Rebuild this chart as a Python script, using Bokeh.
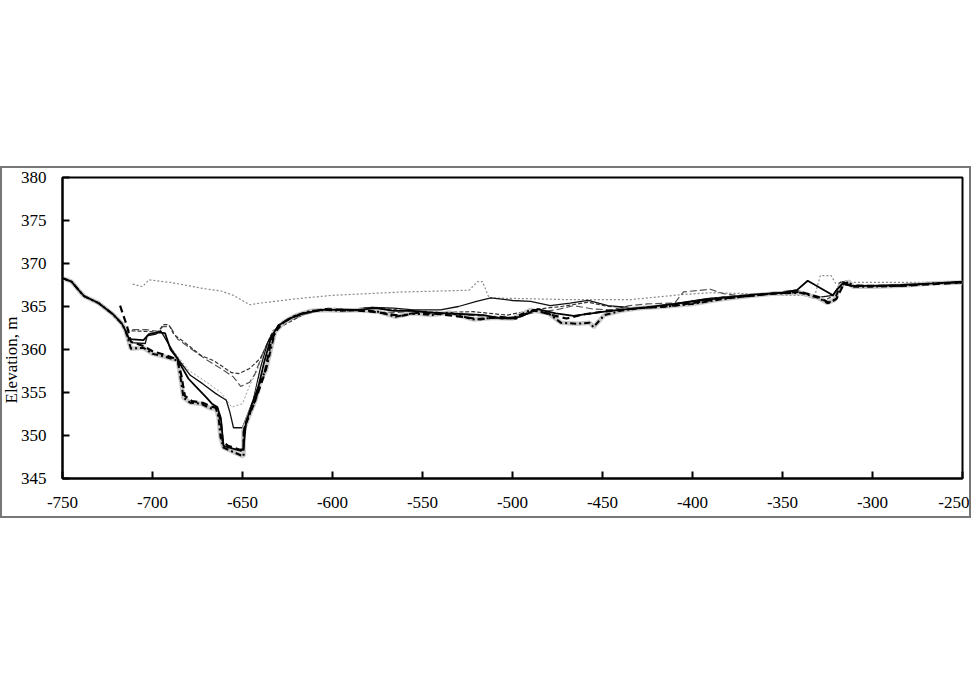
from bokeh.plotting import figure
from bokeh.layouts import column
from bokeh.models import Spacer, Title, FixedTicker, PrintfTickFormatter
from bokeh.embed import file_html
from bokeh.resources import INLINE

# ---- data (distance, elevation) ----
x_ticks = [-750, -700, -650, -600, -550, -500, -450, -400, -350, -300, -250]
y_ticks = [345, 350, 355, 360, 365, 370, 375, 380]

top_x = [-711, -705.6, -702, -690, -672, -662, -655, -646, -640, -620, -600, -580, -560, -540, -524, -519.5, -516.7, -513, -490, -470, -450, -434, -420, -405, -390, -370, -350, -332, -329, -323, -320.5, -310, -290, -270, -250]
top_y = [367.6, 367.3, 368.1, 367.8, 367.1, 366.8, 366.3, 365.2, 365.4, 365.9, 366.3, 366.5, 366.7, 366.8, 366.9, 367.9, 367.9, 366.0, 365.9, 365.8, 365.8, 365.8, 366.1, 366.4, 366.6, 366.5, 366.3, 366.3, 368.6, 368.6, 367.7, 367.8, 367.8, 367.8, 367.9]

a_x = [-750, -745, -741, -738, -730, -722, -717, -715, -703, -697, -694, -691, -688, -682, -673, -666, -656, -652, -646, -640, -636, -633, -629, -623, -614, -603, -590, -577, -564, -555, -540, -522, -503, -486, -473, -458, -447, -436, -429, -410, -392, -373, -355, -342, -332, -327, -322, -318, -313, -311, -284, -266, -250]
a_y = [368.3, 367.9, 366.9, 366.2, 365.4, 364.1, 363.0, 362.2, 362.1, 362.0, 362.9, 362.9, 361.7, 360.8, 359.3, 358.7, 357.3, 357.2, 357.8, 359.0, 360.8, 362.2, 362.6, 363.3, 364.3, 364.8, 364.7, 364.9, 364.6, 364.5, 364.3, 364.4, 364.0, 364.7, 365.0, 365.5, 365.0, 364.9, 364.8, 365.3, 365.9, 366.3, 366.5, 366.6, 366.0, 365.7, 366.2, 367.6, 367.9, 367.3, 367.4, 367.6, 367.8]

b_x = [-750, -745, -741, -738, -730, -722, -717, -715, -703, -697, -694, -690, -686, -680, -670, -662, -655, -651, -646, -643, -639, -635, -632, -627, -620, -612, -602, -590, -578, -566, -556, -540, -525, -512, -500, -488, -476, -466, -455, -445, -435, -425, -410, -405, -390, -383, -372, -355, -340, -330, -325, -321, -318, -312, -300, -280, -265, -250]
b_y = [368.2, 368.0, 366.8, 366.3, 365.3, 364.0, 363.1, 362.3, 362.3, 362.1, 362.7, 362.6, 361.2, 360.3, 358.8, 357.8, 356.8, 355.7, 356.2, 357.2, 359.4, 361.3, 362.3, 363.0, 363.8, 364.5, 364.6, 364.7, 364.5, 364.3, 364.4, 364.1, 364.0, 363.8, 363.7, 364.3, 364.6, 365.1, 364.7, 364.6, 365.1, 365.3, 365.4, 366.7, 367.0, 366.5, 366.2, 366.4, 366.4, 365.8, 365.4, 365.9, 367.5, 367.6, 367.4, 367.5, 367.7, 367.8]

c_x = [-750, -745, -741, -738, -730, -722, -717, -715, -712, -704, -703, -698, -695.5, -689, -684, -679, -672, -665, -659, -657, -655, -650, -648, -644, -642, -640, -636, -632, -625, -617, -608, -598, -588, -578, -566, -555, -540, -530, -520, -512, -500, -490, -479, -468, -458, -447, -436, -429, -411, -392, -373, -355, -342, -332, -322, -320, -318, -313, -311, -300, -284, -266, -250]
c_y = [368.3, 367.8, 366.9, 366.3, 365.4, 364.1, 363.0, 362.0, 360.8, 360.7, 361.6, 361.8, 362.2, 359.9, 358.4, 357.0, 356.0, 354.9, 354.1, 352.7, 350.9, 350.9, 352.0, 354.1, 356.0, 357.9, 360.8, 362.3, 363.3, 364.0, 364.5, 364.7, 364.7, 364.9, 364.8, 364.6, 364.6, 365.0, 365.6, 366.0, 365.7, 365.6, 365.1, 365.4, 365.7, 365.1, 364.9, 364.8, 365.3, 365.9, 366.3, 366.6, 366.9, 366.0, 366.3, 366.9, 367.8, 368.0, 367.4, 367.4, 367.4, 367.7, 367.9]

d_x = [-690, -680, -670, -662, -656, -650, -646, -642, -638, -634]
d_y = [360.3, 357.6, 356.2, 355.0, 353.3, 353.7, 355.8, 357.5, 359.8, 361.8]

e_x = [-750, -745, -741, -738, -730, -722, -717, -715, -712, -705, -700, -692, -686, -684.4, -682.8, -679, -673, -669.4, -666.7, -665, -663.3, -662.2, -660.6, -651, -649.4, -649.4, -646.7, -642.8, -640, -637, -632, -627, -620, -612, -603, -595, -585, -575, -565, -556, -545, -535, -522, -510, -500, -490, -480, -473, -464, -457, -455, -449, -440, -430, -415, -400, -385, -370, -355, -340, -330, -325, -321, -318, -313, -311, -300, -284, -266, -250]
e_y = [368.3, 367.9, 366.9, 366.2, 365.4, 364.1, 363.0, 362.2, 360.1, 360.2, 359.5, 359.1, 358.7, 356.7, 354.4, 353.8, 353.7, 353.3, 353.1, 353.3, 352.1, 349.8, 348.6, 347.7, 347.6, 350.6, 352.1, 354.1, 356.4, 357.6, 362.0, 363.2, 364.0, 364.5, 364.6, 364.5, 364.6, 364.4, 363.8, 364.2, 364.0, 364.3, 363.5, 363.7, 363.6, 364.6, 364.2, 363.1, 363.0, 363.1, 362.6, 364.0, 364.5, 364.8, 365.0, 365.3, 365.8, 366.2, 366.5, 366.6, 366.0, 365.4, 365.8, 367.4, 367.9, 367.3, 367.3, 367.4, 367.7, 367.8]

f_x = [-718, -714, -712, -705, -700, -692, -686, -684, -682, -678, -672, -668, -664, -662, -661, -658, -651, -649.5, -649, -646, -642, -638, -634, -630, -622, -614, -604, -594, -584, -574, -562, -552, -540, -528, -518, -508, -498, -488, -478, -470, -460, -450, -440, -430, -415, -400, -385, -370, -355, -340, -330, -324, -320, -316, -311, -300, -284, -266, -250]
f_y = [365.1, 362.6, 360.9, 360.4, 359.8, 359.3, 358.8, 357.0, 354.6, 354.0, 353.8, 353.4, 353.2, 351.5, 349.3, 348.8, 348.3, 348.6, 351.0, 352.6, 354.6, 357.0, 361.0, 362.8, 363.8, 364.3, 364.7, 364.6, 364.5, 364.3, 363.9, 364.3, 364.1, 363.8, 363.5, 363.8, 363.6, 364.6, 364.0, 363.6, 364.1, 364.4, 364.6, 364.8, 365.0, 365.4, 365.9, 366.2, 366.5, 366.7, 366.1, 365.4, 365.9, 367.6, 367.4, 367.4, 367.4, 367.6, 367.8]

g_x = [-750, -745, -741, -738, -730, -722, -717, -715, -713, -705, -702, -697, -693, -690, -686, -683, -680, -676, -670, -667, -664, -662, -660.6, -651, -649.5, -648, -645, -641, -638, -634, -630, -624, -616, -606, -596, -586, -576, -566, -556, -546, -536, -526, -516, -506, -496, -486, -476, -466, -456, -446, -436, -426, -410, -395, -380, -365, -350, -342, -336, -322, -320, -316, -312, -300, -284, -266, -250]
g_y = [368.3, 367.9, 366.9, 366.2, 365.4, 364.1, 363.0, 362.2, 361.2, 361.1, 361.8, 362.0, 361.9, 360.0, 358.9, 357.7, 356.6, 355.7, 354.4, 353.7, 353.3, 352.0, 348.8, 348.2, 348.5, 351.5, 353.5, 355.8, 358.5, 361.5, 362.8, 363.6, 364.2, 364.6, 364.6, 364.6, 364.8, 364.5, 364.5, 364.3, 364.2, 364.1, 364.0, 363.6, 363.8, 364.7, 364.2, 363.9, 364.2, 364.5, 364.7, 364.9, 365.3, 365.7, 366.1, 366.4, 366.6, 366.9, 368.0, 366.3, 366.9, 367.8, 367.4, 367.4, 367.5, 367.7, 367.9]

FONT = "Liberation Serif"

p = figure(width=971, height=352, x_range=(-750, -250), y_range=(345, 380),
           output_backend="svg", toolbar_location=None,
           min_border_left=60, min_border_right=11, min_border_top=9, min_border_bottom=42)
p.styles = {"border": "2px solid #777777"}
p.grid.visible = False
p.outline_line_color = "black"
p.outline_line_width = 2
p.background_fill_color = "white"
p.border_fill_color = "white"

for ax in (p.xaxis[0], p.yaxis[0]):
    ax.axis_line_width = 2
    ax.axis_line_color = "black"
    ax.major_tick_in = 7
    ax.major_tick_out = 0
    ax.minor_tick_line_color = None
    ax.major_tick_line_width = 2
    ax.major_label_text_font = FONT
    ax.major_label_text_font_size = "17px"
    ax.major_label_text_color = "black"
    ax.formatter = PrintfTickFormatter(format="%d")
p.xaxis.ticker = FixedTicker(ticks=x_ticks)
p.yaxis.ticker = FixedTicker(ticks=y_ticks)
p.xaxis.major_label_standoff = 18
p.yaxis.major_label_standoff = 16

p.line(top_x, top_y, line_color="#8a8a8a", line_width=1.2, line_dash="2 2")
p.line(d_x, d_y, line_color="#9a9a9a", line_width=1, line_dash="2 2")
p.line(b_x, b_y, line_color="#555555", line_width=1.2, line_dash="7 3")
p.line(a_x, a_y, line_color="#333333", line_width=1.2, line_dash="4 2")
p.line(c_x, c_y, line_color="#111111", line_width=1.3)
p.line(e_x, e_y, line_color="#c8c8c8", line_width=4.5)
p.line(e_x, e_y, line_color="black", line_width=2, line_dash="6 3 2 3")
p.line(g_x, g_y, line_color="black", line_width=1.8)
p.line(f_x, f_y, line_color="black", line_width=2.2, line_dash="7 4")

ylab = Title(text="Elevation, m", align="left", offset=75, standoff=-7,
             text_font=FONT, text_font_size="17px", text_font_style="normal",
             text_color="black", text_line_height=1.0)
p.add_layout(ylab, "left")

layout = column(Spacer(width=975, height=166), p)
open("out.html", "w").write(file_html(layout, INLINE))
